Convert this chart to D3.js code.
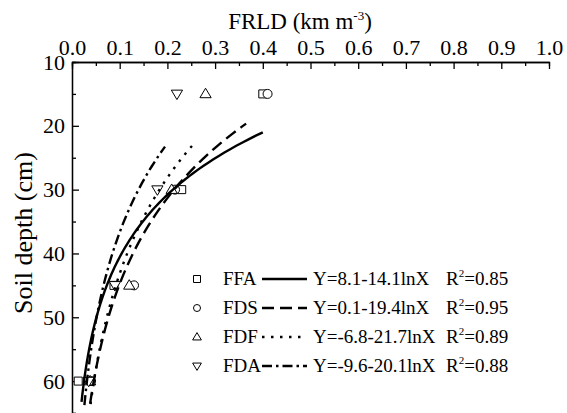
<!DOCTYPE html>
<html>
<head>
<meta charset="utf-8">
<script src="https://cdn.jsdelivr.net/npm/d3@7"></script>
<style>
  body { margin: 0; background: #fff; }
</style>
</head>
<body>
<svg id="chart" width="567" height="413"></svg>
<script>
// soil depths where FRLD was sampled (cm)
const depthLevels = [15, 30, 45, 60];
const seriesNames = ["FFA", "FDS", "FDF", "FDA"];

// FRLD (km m-3) per depth
const ffaValues = [0.400, 0.230, 0.088, 0.013];
const fdsValues = [0.410, 0.216, 0.130, 0.040];
const fdfValues = [0.280, 0.209, 0.120, 0.038];
const fdaValues = [0.220, 0.179, 0.090, 0.035];

// fitted curves Y = a + b lnX
const fitIntercept = [8.1, 0.1, -6.8, -9.6];
const fitSlope = [-14.1, -19.4, -21.7, -20.1];
const fitR2 = ["0.85", "0.95", "0.89", "0.88"];
const fitXStart = [0.020, 0.038, 0.039, 0.026];
const fitXEnd = [0.400, 0.365, 0.258, 0.195];

const xTickValues = [0, 0.1, 0.2, 0.3, 0.4, 0.5, 0.6, 0.7, 0.8, 0.9, 1.0];
const yTickValues = [10, 20, 30, 40, 50, 60];

const allValues = [ffaValues, fdsValues, fdfValues, fdaValues];
const dashes = [null, "12,6", "2.5,6.5", "10,4,2.5,4"];
const markerKinds = ["square", "circle", "up", "down"];
const FONT = "'Liberation Serif', 'Times New Roman', serif";

const svg = d3.select("#chart").attr("font-family", FONT);

const x = d3.scaleLinear().domain([0, 1]).range([72, 549]);
const y = d3.scaleLinear().domain([10, 65]).range([62, 413]);

// marker paths
function markerPath(kind, s) {
    if (kind === "square") return d3.symbol(d3.symbolSquare, s * s)();
    if (kind === "circle") return d3.symbol(d3.symbolCircle, Math.PI * (s / 2) * (s / 2))();
    let w = s * 1.25, h = s * 1.05;
    if (kind === "up") return `M0,${-h * 0.6}L${w / 2},${h * 0.4}L${-w / 2},${h * 0.4}Z`;
    return `M0,${h * 0.6}L${w / 2},${-h * 0.4}L${-w / 2},${-h * 0.4}Z`;
}

// axes
const xAxis = d3.axisTop(x).tickValues(xTickValues).tickSize(-7).tickSizeOuter(0)
    .tickPadding(7).tickFormat(d3.format(".1f"));
const xMinor = d3.axisTop(x).tickValues(d3.range(0.05, 1, 0.1)).tickSize(-4).tickFormat("");
const yAxis = d3.axisLeft(y).tickValues(yTickValues).tickSize(-7).tickSizeOuter(0).tickPadding(7);
const yMinor = d3.axisLeft(y).tickValues([15, 25, 35, 45, 55, 65]).tickSize(-4).tickFormat("");

function styleAxis(g) {
    g.attr("font-family", FONT).attr("font-size", 22);
    g.selectAll("path").attr("stroke", "#000").attr("stroke-width", 1.3);
    g.selectAll("line").attr("stroke", "#000").attr("stroke-width", 1.3);
    g.selectAll("text").attr("fill", "#000");
}

svg.append("g").attr("transform", `translate(0,${y(10)})`).call(xMinor).call(styleAxis);
svg.append("g").attr("transform", `translate(0,${y(10)})`).call(xAxis).call(styleAxis);
svg.append("g").attr("transform", `translate(${x(0)},0)`).call(yMinor).call(styleAxis);
svg.append("g").attr("transform", `translate(${x(0)},0)`).call(yAxis).call(styleAxis);

// axis titles
const title = svg.append("text").attr("x", 300).attr("y", 29)
    .attr("text-anchor", "middle").attr("font-size", 23);
title.append("tspan").text("FRLD (km m");
title.append("tspan").attr("dy", -9).attr("font-size", 13).text("-3");
title.append("tspan").attr("dy", 9).text(")");

svg.append("text").attr("transform", "translate(32,233) rotate(-90)")
    .attr("text-anchor", "middle").attr("font-size", 26).text("Soil depth (cm)");

// observed points
allValues.forEach((vals, i) => {
    svg.append("g").selectAll("path")
        .data(vals.map((v, j) => [v, depthLevels[j]]))
        .join("path")
        .attr("d", markerPath(markerKinds[i], i === 0 ? 8 : 9))
        .attr("transform", d => `translate(${x(d[0])},${y(d[1])})`)
        .attr("fill", "#fff").attr("stroke", "#000").attr("stroke-width", 1);
});

// fitted curves
const line = d3.line().x(d => x(d[0])).y(d => y(d[1]));
seriesNames.forEach((name, i) => {
    const n = 80;
    const pts = d3.range(n + 1).map(k => {
        const xv = Math.exp(Math.log(fitXStart[i]) + (Math.log(fitXEnd[i]) - Math.log(fitXStart[i])) * k / n);
        return [xv, fitIntercept[i] + fitSlope[i] * Math.log(xv)];
    });
    svg.append("path").datum(pts).attr("d", line)
        .attr("fill", "none").attr("stroke", "#000").attr("stroke-width", 2.4)
        .attr("stroke-dasharray", dashes[i]);
});

// legend
const legendRows = [279, 308, 337, 366];
seriesNames.forEach((name, i) => {
    const g = svg.append("g").attr("transform", `translate(0,${legendRows[i]})`)
        .attr("font-size", 19);
    g.append("path").attr("d", markerPath(markerKinds[i], 7))
        .attr("transform", "translate(197,0)")
        .attr("fill", "#fff").attr("stroke", "#000").attr("stroke-width", 1);
    g.append("text").attr("x", 223).attr("y", 6).text(name);
    g.append("line").attr("x1", 262).attr("x2", 307).attr("y1", 0).attr("y2", 0)
        .attr("stroke", "#000").attr("stroke-width", 2.4).attr("stroke-dasharray", dashes[i]);
    const a = fitIntercept[i], b = fitSlope[i];
    g.append("text").attr("x", 313).attr("y", 6).text(`Y=${a}-${Math.abs(b)}lnX`);
    const r = g.append("text").attr("x", 446).attr("y", 6);
    r.append("tspan").text("R");
    r.append("tspan").attr("dy", -8).attr("font-size", 11).text("2");
    r.append("tspan").attr("dy", 8).text("=" + fitR2[i]);
});
</script>
</body>
</html>
